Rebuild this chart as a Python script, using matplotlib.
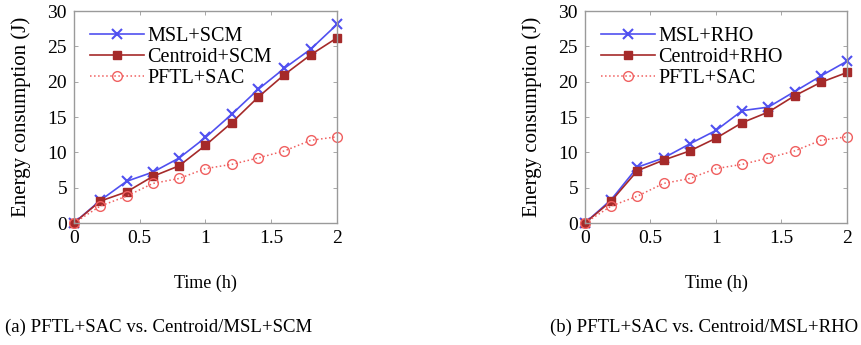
import matplotlib.pyplot as plt

plt.rcParams['font.family'] = ['Liberation Serif', 'DejaVu Serif']

# data
time_h = [0, 0.2, 0.4, 0.6, 0.8, 1.0, 1.2, 1.4, 1.6, 1.8, 2.0]

msl_scm = [0, 3.2, 5.9, 7.2, 9.2, 12.1, 15.4, 18.9, 21.9, 24.6, 28.1]
centroid_scm = [0, 3.1, 4.4, 6.6, 8.1, 11.0, 14.2, 17.8, 21.0, 23.8, 26.2]
pftl_sac = [0, 2.4, 3.8, 5.6, 6.3, 7.7, 8.3, 9.2, 10.2, 11.7, 12.2]

msl_rho = [0, 3.3, 7.9, 9.2, 11.2, 13.1, 15.9, 16.4, 18.6, 20.8, 22.9]
centroid_rho = [0, 3.1, 7.4, 8.9, 10.2, 12.0, 14.2, 15.7, 18.0, 19.9, 21.3]

panels = [
    ('MSL+SCM', 'Centroid+SCM', msl_scm, centroid_scm,
     '(a) PFTL+SAC vs. Centroid/MSL+SCM'),
    ('MSL+RHO', 'Centroid+RHO', msl_rho, centroid_rho,
     '(b) PFTL+SAC vs. Centroid/MSL+RHO'),
]

fig = plt.figure(figsize=(8.62, 3.45), dpi=100)
W, H = 862, 345
boxes = [(74, 11, 337, 223), (585, 11, 847, 223)]
caption_x = [159, 704]

for (lab1, lab2, s1, s2, cap), (x0, y0, x1, y1), cx in zip(panels, boxes, caption_x):
    ax = fig.add_axes([x0 / W, 1 - y1 / H, (x1 - x0) / W, (y1 - y0) / H])
    ax.plot(time_h, s1, color='#5050f0', marker='x', markersize=7,
            markeredgewidth=1.5, linewidth=1.2, label=lab1)
    ax.plot(time_h, s2, color='#a52a2a', marker='s', markersize=6,
            linewidth=1.2, label=lab2)
    ax.plot(time_h, pftl_sac, color='#f06060', marker='o', markersize=7,
            markerfacecolor='none', markeredgewidth=1.0, linestyle=':',
            linewidth=1.1, label='PFTL+SAC')
    ax.set_xlim(0, 2)
    ax.set_ylim(0, 30)
    ax.set_xticks([0, 0.5, 1, 1.5, 2])
    ax.set_xticklabels(['0', '0.5', '1', '1.5', '2'])
    ax.set_yticks([0, 5, 10, 15, 20, 25, 30])
    ax.tick_params(direction='in', length=3, width=0.6, color='#999999',
                   top=True, right=True, labelsize=14, pad=5)
    for sp in ax.spines.values():
        sp.set_color('#9a9a9a')
        sp.set_linewidth(1.0)
    ax.set_ylabel('Energy consumption (J)', fontsize=15, labelpad=12)
    ax.set_xlabel('Time (h)', fontsize=13, labelpad=20)
    for line in ax.lines:
        line.set_clip_on(False)
    ax.legend(loc='upper left', frameon=False, fontsize=14.5,
              handlelength=2.7, handletextpad=0.15, labelspacing=0.1,
              borderaxespad=0.0, bbox_to_anchor=(0.03, 0.965))
    fig.text(cx / W, 1 - 327 / H, cap, ha='center', va='center', fontsize=13.5)

fig.savefig('out.png', dpi=100)
